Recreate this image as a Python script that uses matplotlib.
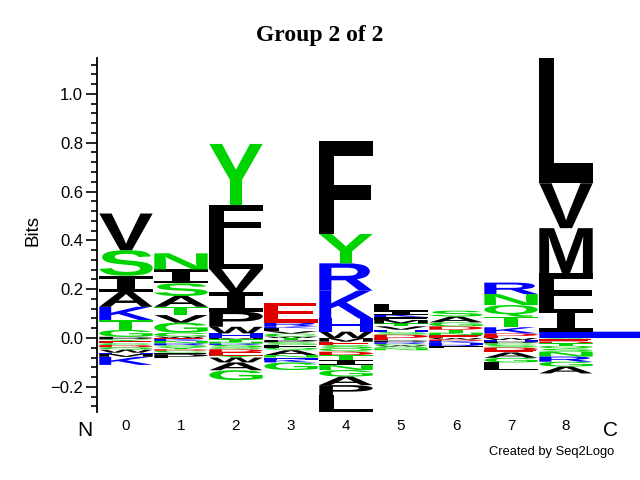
"""Logo de séquence (style Seq2Logo) : Group 2 of 2, positions 0 à 8."""

import matplotlib

matplotlib.use("Agg")
import matplotlib.pyplot as plt
from matplotlib.font_manager import FontProperties
from matplotlib.patches import PathPatch
from matplotlib.text import TextPath
from matplotlib.ticker import MultipleLocator, StrMethodFormatter
from matplotlib.transforms import Affine2D, blended_transform_factory

# Lettres au-dessus de zéro, du bas vers le haut : (lettre, hauteur en bits)
pos0 = [("P", .005), ("G", .028), ("T", .041), ("K", .054), ("A", .062),
        ("I", .065), ("S", .105), ("V", .150)]
pos1 = [("W", .006), ("C", .016), ("G", .041), ("V", .031), ("T", .034),
        ("A", .044), ("S", .052), ("I", .057), ("N", .066)]
pos2 = [("H", .019), ("W", .027), ("P", .062), ("I", .079), ("V", .096),
        ("L", .115), ("F", .147), ("Y", .250)]
pos3 = [("W", .006), ("C", .012), ("V", .010), ("L", .012), ("K", .008),
        ("R", .015), ("E", .082)]
pos4 = [("W", .026), ("H", .054), ("K", .114), ("R", .112), ("Y", .120),
        ("F", .379)]
pos5 = [("D", .014), ("S", .010), ("H", .010), ("V", .014), ("T", .012),
        ("M", .014), ("F", .012), ("K", .010), ("I", .012), ("L", .031)]
pos6 = [("E", .012), ("N", .010), ("T", .012), ("D", .014), ("G", .016),
        ("A", .024), ("S", .024)]
pos7 = [("E", .008), ("D", .011), ("K", .025), ("T", .043), ("Q", .048),
        ("N", .045), ("R", .047)]
pos8 = [("K", .026), ("I", .091), ("F", .148), ("M", .185), ("V", .184),
        ("L", .512)]

# Lettres sous zéro, de zéro vers le bas
neg0 = [("P", .006), ("Y", .008), ("E", .007), ("C", .008), ("D", .009),
        ("Q", .010), ("W", .012), ("H", .005), ("M", .012), ("K", .033)]
neg1 = [("E", .004), ("K", .008), ("N", .010), ("R", .008), ("S", .008),
        ("Y", .008), ("D", .006), ("C", .008), ("F", .006), ("P", .016)]
neg2 = [("M", .005), ("T", .010), ("N", .008), ("R", .005), ("S", .010),
        ("Q", .008), ("D", .012), ("E", .014), ("Y", .008), ("W", .020),
        ("A", .032), ("G", .040)]
neg3 = [("T", .008), ("P", .010), ("S", .010), ("F", .012), ("Q", .010),
        ("A", .020), ("N", .010), ("H", .008), ("K", .012), ("G", .031)]
neg4 = [("M", .015), ("E", .014), ("S", .013), ("Q", .014), ("D", .014),
        ("T", .020), ("I", .021), ("N", .020), ("G", .027), ("A", .035),
        ("P", .041), ("L", .068)]
neg5 = [("E", .010), ("P", .008), ("R", .006), ("C", .006), ("W", .005),
        ("Q", .007), ("N", .008)]
neg6 = [("W", .006), ("D", .006), ("K", .008), ("H", .008), ("R", .006),
        ("F", .006)]
neg7 = [("W", .008), ("H", .007), ("P", .007), ("C", .007), ("S", .010),
        ("D", .012), ("E", .008), ("A", .022), ("G", .019), ("L", .031)]
neg8 = [("Y", .006), ("E", .008), ("D", .008), ("T", .010), ("Q", .012),
        ("S", .012), ("N", .020), ("R", .021), ("G", .020), ("A", .028)]

positifs = [pos0, pos1, pos2, pos3, pos4, pos5, pos6, pos7, pos8]
negatifs = [neg0, neg1, neg2, neg3, neg4, neg5, neg6, neg7, neg8]
positions = list(range(9))
etiquettes_x = [str(p) for p in positions]

# Couleurs par classe d'acides aminés
VERT, NOIR, BLEU, ROUGE = "#00d400", "#000000", "#0000ff", "#e00000"
couleurs = {}
for aa in "GSTYCNQ":
    couleurs[aa] = VERT
for aa in "AVLIPWFM":
    couleurs[aa] = NOIR
for aa in "KRH":
    couleurs[aa] = BLEU
for aa in "DE":
    couleurs[aa] = ROUGE

police = FontProperties(family="Liberation Sans", weight="bold")
police_i = FontProperties(family="DejaVu Sans Mono", weight="bold")  # I à empattements
LARGEUR = 0.97
XMIN, XMAX = -0.527, 9.345


def dessiner_lettre(ax, lettre, x, y, largeur, hauteur):
    """Étire le glyphe de la lettre pour remplir le rectangle donné."""
    prop = police_i if lettre == "I" else police
    chemin = TextPath((0, 0), lettre, size=1, prop=prop)
    ext = chemin.get_extents()
    trans = (Affine2D()
             .translate(-ext.x0, -ext.y0)
             .scale(largeur / ext.width, hauteur / ext.height)
             .translate(x, y))
    patch = PathPatch(trans.transform_path(chemin), facecolor=couleurs[lettre],
                      edgecolor="none", lw=0, clip_on=False)
    ax.add_patch(patch)


fig = plt.figure(figsize=(6.4, 4.8), dpi=100)
ax = fig.add_axes([97 / 640, 68 / 480, 543 / 640, 354 / 480])

for p, pile_haut, pile_bas in zip(positions, positifs, negatifs):
    y = 0.0
    for i, (lettre, h) in enumerate(pile_haut):
        gauche = p - LARGEUR / 2
        largeur = LARGEUR
        # artefact du logo d'origine : la première lettre de la dernière
        # colonne est démesurément large, seul son jambage reste visible
        if p == positions[-1] and i == 0:
            largeur = (XMAX - gauche) * 8
        dessiner_lettre(ax, lettre, gauche, y, largeur, h)
        y += h
    y = 0.0
    for lettre, h in pile_bas:
        y -= h
        dessiner_lettre(ax, lettre, p - LARGEUR / 2, y, LARGEUR, h)

ax.set_xlim(XMIN, XMAX)
ax.set_ylim(-0.303, 1.147)
for cote in ("top", "right", "bottom"):
    ax.spines[cote].set_visible(False)
ax.spines["left"].set_linewidth(1.3)
ax.set_xticks([])
ax.yaxis.set_major_locator(MultipleLocator(0.2))
ax.yaxis.set_minor_locator(MultipleLocator(0.04))
ax.yaxis.set_major_formatter(StrMethodFormatter("{x:.1f}"))
ax.tick_params(axis="y", which="major", length=8, width=1.2, labelsize=12,
               pad=2)
ax.tick_params(axis="y", which="minor", length=4, width=1.2)
for lab in ax.get_yticklabels():
    lab.set_fontfamily("Liberation Sans")

mixte = blended_transform_factory(ax.transData, fig.transFigure)
for p, txt in zip(positions, etiquettes_x):
    ax.text(p, 54 / 480, txt, transform=mixte, ha="center", va="center",
            fontsize=11, family="Liberation Sans")
ax.text(-0.745, 49 / 480, "N", transform=mixte, ha="center", va="center",
        fontsize=15, family="Liberation Sans")
ax.text(8.8, 49 / 480, "C", transform=mixte, ha="center", va="center",
        fontsize=15, family="Liberation Sans")

fig.text(33 / 640, 249 / 480, "Bits", rotation=90, ha="center", va="center",
         fontsize=13.5, family="Liberation Sans")
fig.text(0.5, 1 - 35 / 480, "Group 2 of 2", ha="center", va="center",
         fontsize=17, family="Liberation Serif", weight="bold")
fig.text(552 / 640, 28 / 480, "Created by Seq2Logo", ha="center",
         va="center", fontsize=9.3, family="Liberation Sans")

fig.savefig("out.png", dpi=100)
